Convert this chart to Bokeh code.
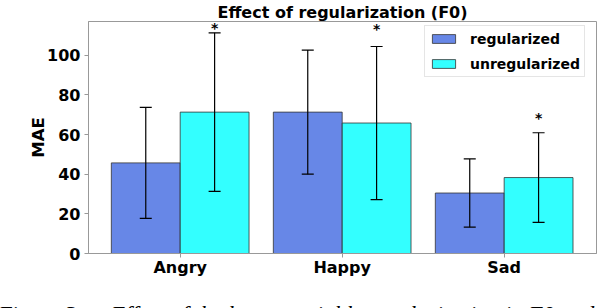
from bokeh.plotting import figure
from bokeh.models import (ColumnDataSource, Whisker, TeeHead, Legend, Title,
                          LegendItem, FixedTicker, Range1d, Div)
from bokeh.layouts import column
from bokeh.core.properties import value
from bokeh.embed import file_html
from bokeh.resources import INLINE

# ---- data ----
categories = ["Angry", "Happy", "Sad"]
regularized = [45.7, 71.3, 30.5]
regularized_err = [28.0, 31.3, 17.2]
unregularized = [71.3, 65.8, 38.3]
unregularized_err = [40.0, 38.6, 22.6]
star_y = [113.8, 113.2, 68.2]
y_ticks = [0, 20, 40, 60, 80, 100]
title_text = "Effect of regularization (F0)"
caption_a = "Figure 3:"
caption_b = "Effect of the latent variable regularization in F0 and"

# ---- layout helpers ----
W = 0.425
xs = list(range(len(categories)))
x_reg = [i - W / 2 for i in xs]
x_unr = [i + W / 2 for i in xs]

FL, FB = 88, 253  # frame left / bottom in window px
PH = 290          # figure height; caption strip below

src_r = ColumnDataSource(dict(
    x=x_reg, top=regularized,
    lo=[v - e for v, e in zip(regularized, regularized_err)],
    hi=[v + e for v, e in zip(regularized, regularized_err)]))
src_u = ColumnDataSource(dict(
    x=x_unr, top=unregularized,
    lo=[v - e for v, e in zip(unregularized, unregularized_err)],
    hi=[v + e for v, e in zip(unregularized, unregularized_err)],
    sy=star_y, star=["*"] * len(categories)))

p = figure(width=598, height=PH,
           x_range=Range1d(-0.566, 2.570), y_range=Range1d(0, 117),
           min_border_left=FL, min_border_right=2, min_border_top=19,
           min_border_bottom=PH - FB,
           toolbar_location=None, output_backend="svg")
p.title = Title(text=title_text, align="center", text_font="DejaVu Sans",
                text_font_style="bold", text_font_size="16px",
                text_color="black", standoff=0, offset=0)
p.background_fill_color = "white"
p.border_fill_color = "white"
p.outline_line_color = "#999999"
p.grid.visible = False

r1 = p.vbar(x="x", top="top", width=W, source=src_r, fill_color="#4169E1",
            fill_alpha=0.8, line_color="#333333", line_alpha=0.8, line_width=1)
r2 = p.vbar(x="x", top="top", width=W, source=src_u, fill_color="#00FFFF",
            fill_alpha=0.8, line_color="#333333", line_alpha=0.8, line_width=1)

for src in (src_r, src_u):
    wk = Whisker(base="x", upper="hi", lower="lo", source=src,
                 level="annotation",
                 line_color="black", line_width=1.2,
                 upper_head=TeeHead(size=12, line_color="black", line_width=1.2),
                 lower_head=TeeHead(size=12, line_color="black", line_width=1.2))
    p.add_layout(wk)

p.text(x="x", y="sy", text="star", source=src_u, text_align="center",
       text_baseline="middle", text_font=value("DejaVu Sans"),
       text_font_style="bold", text_font_size="14px", text_color="black")

for ax in (p.xaxis, p.yaxis):
    ax.axis_line_color = "#999999"
    ax.major_tick_line_color = "#999999"
    ax.minor_tick_line_color = None
    ax.major_tick_out = 4
    ax.major_tick_in = 0
    ax.major_label_text_font = "DejaVu Sans"
    ax.major_label_text_font_style = "bold"
    ax.major_label_text_font_size = "16px"
    ax.major_label_text_color = "black"

p.xaxis.ticker = FixedTicker(ticks=xs)
p.xaxis.major_label_overrides = {i: c for i, c in zip(xs, categories)}
p.xaxis.major_label_standoff = 0
p.yaxis.ticker = FixedTicker(ticks=y_ticks)
p.yaxis.major_label_standoff = 4
p.yaxis.axis_label = "MAE"
p.yaxis.axis_label_text_font = "DejaVu Sans"
p.yaxis.axis_label_text_font_style = "bold"
p.yaxis.axis_label_text_font_size = "16.5px"
p.yaxis.axis_label_text_color = "black"
p.yaxis.axis_label_standoff = -4

legend = Legend(items=[LegendItem(label="regularized", renderers=[r1]),
                       LegendItem(label="unregularized", renderers=[r2])],
                location=(336, 176), padding=4, spacing=8, label_height=17,
                glyph_width=29, glyph_height=11, label_standoff=12,
                label_text_font="DejaVu Sans", label_text_font_style="bold",
                label_text_font_size="14px", label_text_color="black",
                border_line_color="#cccccc", border_line_width=1,
                background_fill_alpha=0.8, margin=0)
p.add_layout(legend)

caption = Div(
    text=('<div style="font-family:\'Liberation Serif\';font-size:23px;'
          'line-height:26px;margin:0;padding-top:12px;white-space:nowrap;'
          'color:black">' + caption_a +
          '&nbsp;&nbsp;&nbsp;<i style="padding-left:10px">' + caption_b +
          '</i></div>'),
    width=598, height=308 - PH, styles={"overflow": "hidden", "margin": "0"})

layout = column(p, caption, spacing=0)
open("out.html", "w").write(file_html(layout, INLINE))
